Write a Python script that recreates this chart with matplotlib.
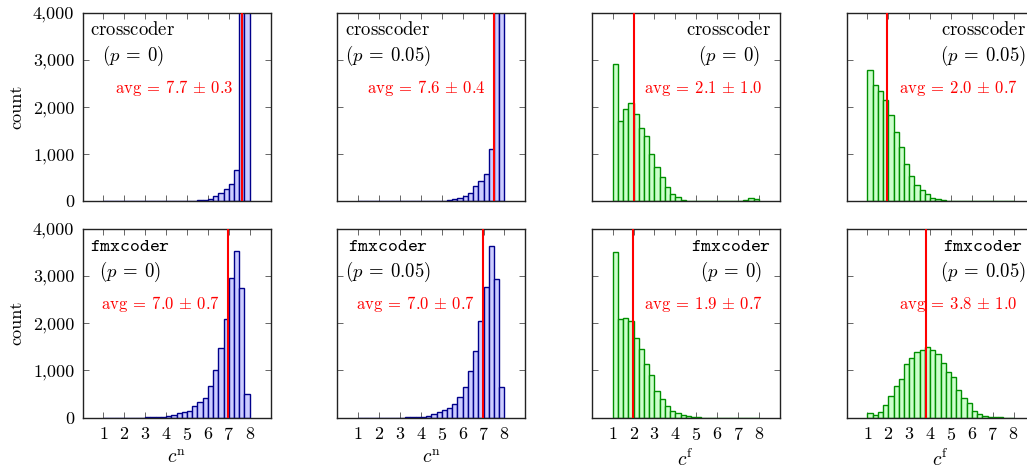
import numpy as np
import matplotlib
matplotlib.use("Agg")
import matplotlib.pyplot as plt
from matplotlib.ticker import FuncFormatter

plt.rcParams.update({
    "font.family": "cmr10",
    "mathtext.fontset": "cm",
    "axes.formatter.use_mathtext": True,
    "axes.linewidth": 1.0,
})

# =========================
# Data: histogram counts, 28 bins of width 0.25 from 1 to 8
# =========================
bin_left = np.arange(1.0, 8.0, 0.25)
bin_width = 0.25

cross_cn_p0 = [0, 0, 0, 0, 0, 0, 0, 0, 0, 1, 1, 2, 2, 3, 4, 6, 9, 14, 21, 28,
               57, 106, 184, 269, 368, 657, 6500, 9000]
cross_cn_p05 = [0, 0, 0, 0, 0, 0, 0, 0, 0, 0, 1, 2, 3, 4, 6, 9, 14, 28, 42, 64,
                106, 184, 318, 424, 580, 1120, 6000, 8000]
cross_cf_p0 = [2904, 1696, 1950, 2092, 1852, 1562, 1392, 1003, 721, 509, 304, 155,
               85, 28, 14, 7, 3, 2, 2, 2, 3, 4, 6, 10, 15, 25, 70, 50]
cross_cf_p05 = [2777, 2459, 2339, 2148, 1837, 1477, 1159, 784, 537, 346, 240, 155,
                64, 42, 28, 14, 7, 4, 3, 2, 2, 1, 1, 1, 1, 1, 1, 1]
fmx_cn_p0 = [1, 1, 1, 2, 3, 3, 4, 4, 5, 6, 8, 14, 35, 63, 99, 120, 148, 239, 324,
             415, 662, 1014, 1478, 2084, 2950, 3534, 2739, 507]
fmx_cn_p05 = [1, 1, 1, 2, 2, 3, 3, 4, 4, 5, 6, 8, 14, 35, 70, 113, 169, 197, 296,
              437, 648, 993, 1415, 2042, 2774, 3640, 2943, 641]
fmx_cf_p0 = [3513, 2098, 2112, 2042, 1697, 1464, 1140, 901, 556, 394, 253, 141,
             99, 49, 28, 14, 7, 4, 3, 2, 2, 1, 1, 1, 1, 1, 1, 1]
fmx_cf_p05 = [106, 56, 120, 275, 458, 676, 810, 1126, 1267, 1387, 1436, 1500,
              1443, 1352, 1155, 972, 859, 584, 408, 310, 148, 77, 42, 21, 14, 7, 4, 2]

counts = [cross_cn_p0, cross_cn_p05, cross_cf_p0, cross_cf_p05,
          fmx_cn_p0, fmx_cn_p05, fmx_cf_p0, fmx_cf_p05]
models = [r"$\mathrm{crosscoder}$"] * 4 + [r"$\mathtt{fmxcoder}$"] * 4
p_labels = ["0", "0.05", "0", "0.05"] * 2
avg_text = ["7.7", "7.6", "2.1", "2.0", "7.0", "7.0", "1.9", "3.8"]
std_text = ["0.3", "0.4", "1.0", "0.7", "0.7", "0.7", "0.7", "1.0"]
avg_line = [7.62, 7.52, 2.03, 1.95, 6.98, 6.99, 1.95, 3.81]
kinds = ["n", "n", "f", "f"] * 2

colors = {
    "n": ("#ccccff", "#00008b"),
    "f": ("#ccffcc", "#009000"),
}

# =========================
# Layout (pixel-based positions)
# =========================
W, H = 1027, 469
fig = plt.figure(figsize=(W / 100, H / 100), dpi=100)
lefts = [82.6, 337.3, 591.8, 846.5]
ax_w = 188.0
rows = [(12.8, 201.3), (228.7, 417.7)]

yfmt = FuncFormatter(lambda v, pos: f"{int(v):,}")

for i in range(8):
    r, c = divmod(i, 4)
    top, bot = rows[r]
    ax = fig.add_axes([lefts[c] / W, (H - bot) / H, ax_w / W, (bot - top) / H])
    face, edge = colors[kinds[i]]
    ax.bar(bin_left, counts[i], width=bin_width, align="edge",
           facecolor=face, edgecolor=edge, linewidth=1.0, zorder=2)
    ax.axvline(avg_line[i], color="red", linewidth=1.5, zorder=3)

    ax.set_xlim(0, 9)
    ax.set_ylim(0, 4000)
    ax.set_xticks(range(1, 9))
    ax.set_yticks(range(0, 4001, 1000))
    ax.yaxis.set_major_formatter(yfmt)
    ax.tick_params(direction="in", top=True, right=True, length=4.5,
                   width=0.7, color="#666666", labelsize=13, pad=6)
    for s in ax.spines.values():
        s.set_color("#222222")

    if r == 0:
        ax.tick_params(labelbottom=False)
    else:
        ax.set_xlabel(r"$c^{\mathrm{%s}}$" % kinds[i], fontsize=14, labelpad=4)
    if c == 0:
        ax.set_ylabel("count", fontsize=13, labelpad=6)
    else:
        ax.tick_params(labelleft=False)

    name = models[i] + "\n" + r"$(p\:=\:%s)$" % p_labels[i]
    avg = r"$\mathrm{avg}\:=\:%s\,\pm\,%s$" % (avg_text[i], std_text[i])
    if kinds[i] == "n":
        ax.text(0.04, 0.955, name, transform=ax.transAxes, ha="left", va="top",
                multialignment="center", fontsize=13.5, linespacing=1.25)
        ax.text(avg_line[i] - 0.42, 2400, avg,
                color="red", ha="right", va="center", fontsize=12)
    else:
        ax.text(0.955, 0.955, name, transform=ax.transAxes, ha="right", va="top",
                multialignment="center", fontsize=13.5, linespacing=1.25)
        ax.text(2.52, 2400, avg,
                color="red", ha="left", va="center", fontsize=12)

fig.savefig("out.png", dpi=100)
